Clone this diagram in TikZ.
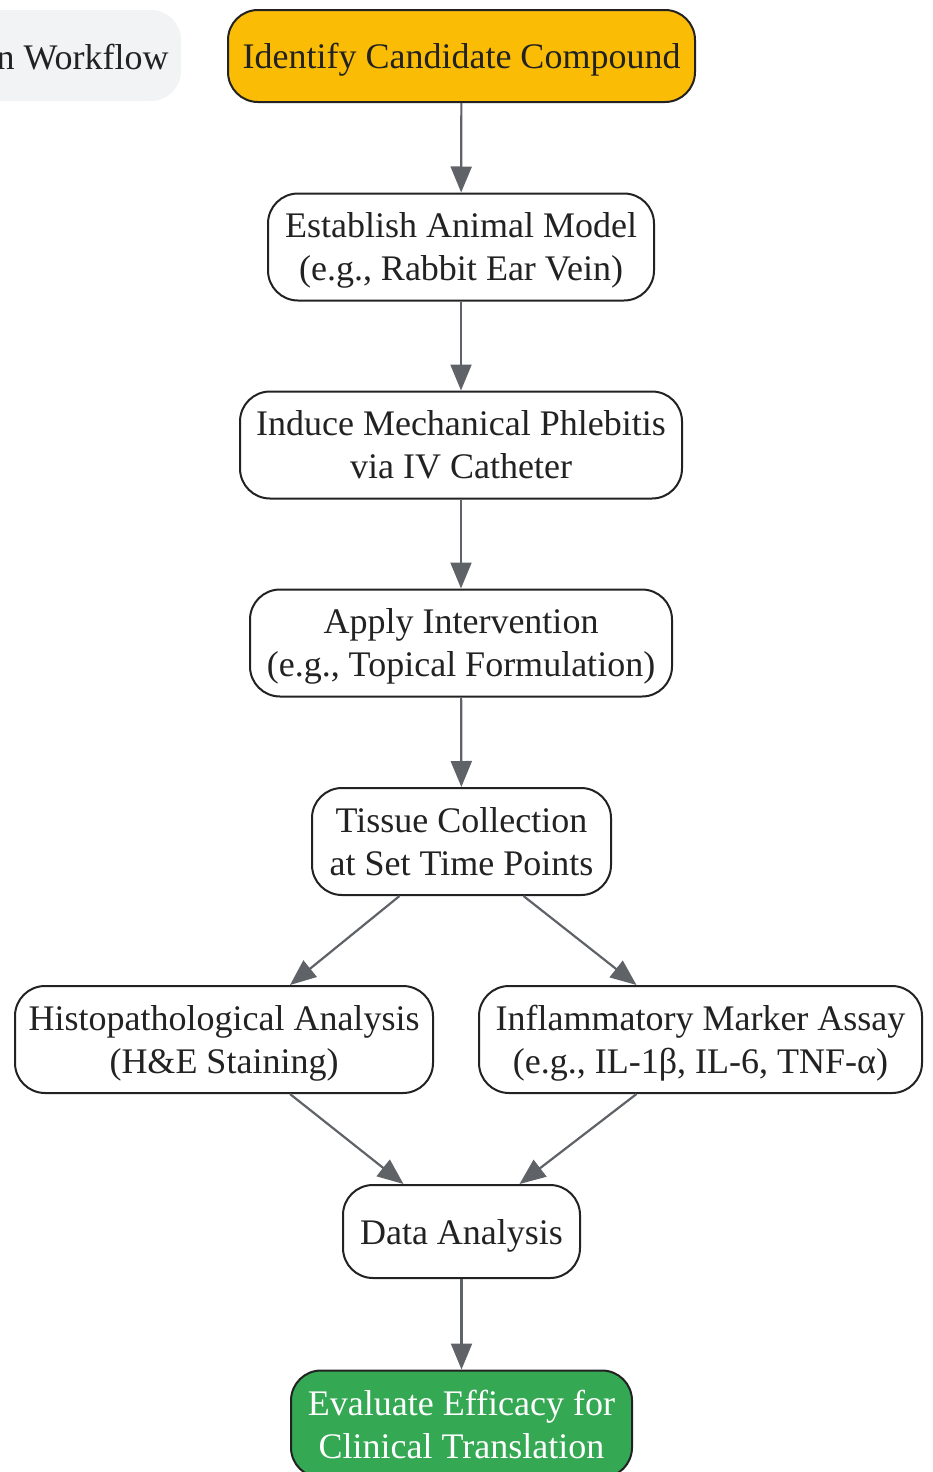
\documentclass[tikz,border=0pt]{standalone}
\usepackage{fontspec}
\setmainfont{Liberation Serif}
\usepackage{tikz}
\usetikzlibrary{arrows.meta}

\definecolor{inkdark}{HTML}{222222}
\definecolor{flowgrey}{HTML}{5F6368}
\definecolor{startyellow}{HTML}{FBBC05}
\definecolor{endgreen}{HTML}{34A853}
\definecolor{titlegrey}{HTML}{F1F3F4}

\begin{document}
\begin{tikzpicture}[x=0.5pt,y=-0.5pt,
   font=\fontsize{18pt}{21.5pt}\selectfont,
   stepbox/.style={draw=inkdark,line width=1pt,fill=white,rounded corners=15pt,
      align=center,inner sep=0pt,text=inkdark,text depth=0pt,minimum height=53.5pt},
   startbox/.style={stepbox,fill=startyellow,minimum height=46pt},
   endbox/.style={stepbox,fill=endgreen,text=white},
   flow/.style={draw=flowgrey,line width=1.1pt,-{Triangle[length=13pt,width=10.5pt]}}]
\clip (0,0) rectangle (932,1472);
% title tag, cut at the left edge
\fill[titlegrey,rounded corners=15pt] (-80,10) rectangle (181,101);
\node[anchor=east,inner sep=0pt,text=inkdark] (title) at (169,57) {n Workflow};
% main chain
\node[startbox,minimum width=233.5pt] (ident) at (461.5,56) {Identify Candidate Compound};
\node[stepbox,minimum width=193pt] (animal) at (461,247) {Establish Animal Model\\(e.g., Rabbit Ear Vein)};
\node[stepbox,minimum width=221pt] (induce) at (461,445) {Induce Mechanical Phlebitis\\via IV Catheter};
\node[stepbox,minimum width=211pt] (apply) at (461,643) {Apply Intervention\\(e.g., Topical Formulation)};
\node[stepbox,minimum width=149.5pt] (tissue) at (461.5,841.5) {Tissue Collection\\at Set Time Points};
\node[stepbox,minimum width=209pt] (histo) at (224,1039.5) {Histopathological Analysis\\(H\&E Staining)};
\node[stepbox,minimum width=221.5pt] (marker) at (700.5,1039.5) {Inflammatory Marker Assay\\(e.g., IL-1β, IL-6, TNF-α)};
\node[stepbox,minimum width=118.5pt,minimum height=46.5pt] (data) at (461.5,1231.5) {Data Analysis};
\node[endbox,minimum width=170.5pt] (evaluate) at (461.5,1424) {Evaluate Efficacy for\\Clinical Translation};
% connectors
\foreach \a/\b in {ident/animal,animal/induce,induce/apply,apply/tissue,data/evaluate} {
   \draw[flow] (\a) -- (\b);
}
\draw[flow] ([xshift=-31pt]tissue.south) -- ([xshift=33pt]histo.north);
\draw[flow] ([xshift=31pt]tissue.south) -- ([xshift=-32pt]marker.north);
\draw[flow] ([xshift=33pt]histo.south) -- ([xshift=-29pt]data.north);
\draw[flow] ([xshift=-32pt]marker.south) -- ([xshift=29pt]data.north);
\end{tikzpicture}
\end{document}
